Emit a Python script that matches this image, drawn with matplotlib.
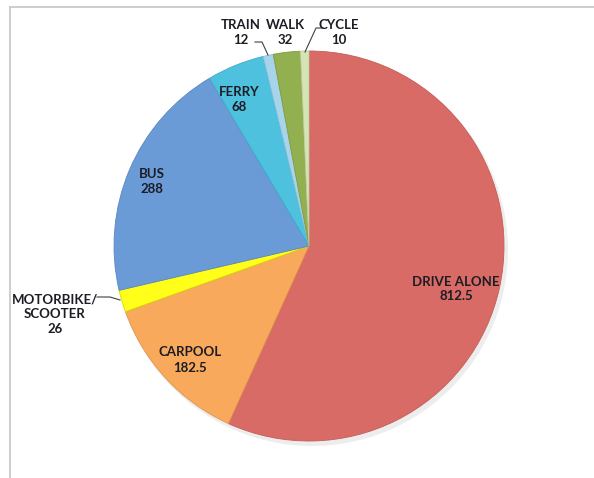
import matplotlib.pyplot as plt
from matplotlib.lines import Line2D

plt.rcParams['font.family'] = ['Lato', 'DejaVu Sans']

# data
modes = ["DRIVE ALONE", "CARPOOL", "MOTORBIKE/\nSCOOTER", "BUS", "FERRY", "TRAIN", "WALK", "CYCLE"]
counts = [812.5, 182.5, 26, 288, 68, 12, 32, 10]
value_labels = ["812.5", "182.5", "26", "288", "68", "12", "32", "10"]
colors = ["#D96B66", "#F8A95C", "#FFFF1A", "#6B9BD6", "#4DC1DE", "#A8D4EA", "#93B050", "#D5E3B5"]
edges = ["#C45C57", "#E0954A", "#D8D800", "#5A88C2", "#3DAACA", "#92BFD6", "#7F9B42", "#BFCFA0"]

# label placement (pixel coords, y from top) like the hand-placed excel labels
label_pos = [(456, 289), (190, 360), (55, 314), (152, 181), (239, 99), (241, 32), (285, 32), (339, 32)]
leaders = {
    5: [(255, 42), (262, 42), (268, 55)],
    7: [(323, 28), (316, 28), (305, 52)],
    2: [(97, 297), (110, 297), (120, 300)],
}

W, H = 594, 478
fig = plt.figure(figsize=(W / 100, H / 100), dpi=100)
ax = fig.add_axes([0, 0, 1, 1])

cx, cy, r = 309, H - 246, 195

# soft shadow
shadow = plt.Circle((cx + 3, cy - 4), r + 1, color="#000000", alpha=0.07, lw=0)
ax.add_patch(shadow)

wedges, _ = ax.pie(counts, colors=colors, startangle=90, counterclock=False,
                   center=(cx, cy), radius=r, frame=True,
                   wedgeprops=dict(linewidth=0.6))
for w, ec in zip(wedges, edges):
    w.set_edgecolor(ec)
ax.set_xlim(0, W)
ax.set_ylim(0, H)
ax.set_aspect("equal")
ax.axis("off")

for i, (name, val) in enumerate(zip(modes, value_labels)):
    x, y = label_pos[i]
    ax.text(x, H - y, name + "\n" + val, ha="center", va="center",
            fontsize=9.5, fontweight="bold", color="#1c1c24", linespacing=1.3)

for i, pts in leaders.items():
    xs = [p[0] for p in pts]
    ys = [H - p[1] for p in pts]
    ax.plot(xs, ys, color="#404040", lw=0.8)

# thin chart-area border (top and left visible)
fig.add_artist(Line2D([10 / W, 1], [1 - 7 / H, 1 - 7 / H], color="#C6C6C6", lw=1.2))
fig.add_artist(Line2D([10 / W, 10 / W], [0, 1 - 7 / H], color="#C6C6C6", lw=1.2))

fig.savefig("out.png", dpi=100)
